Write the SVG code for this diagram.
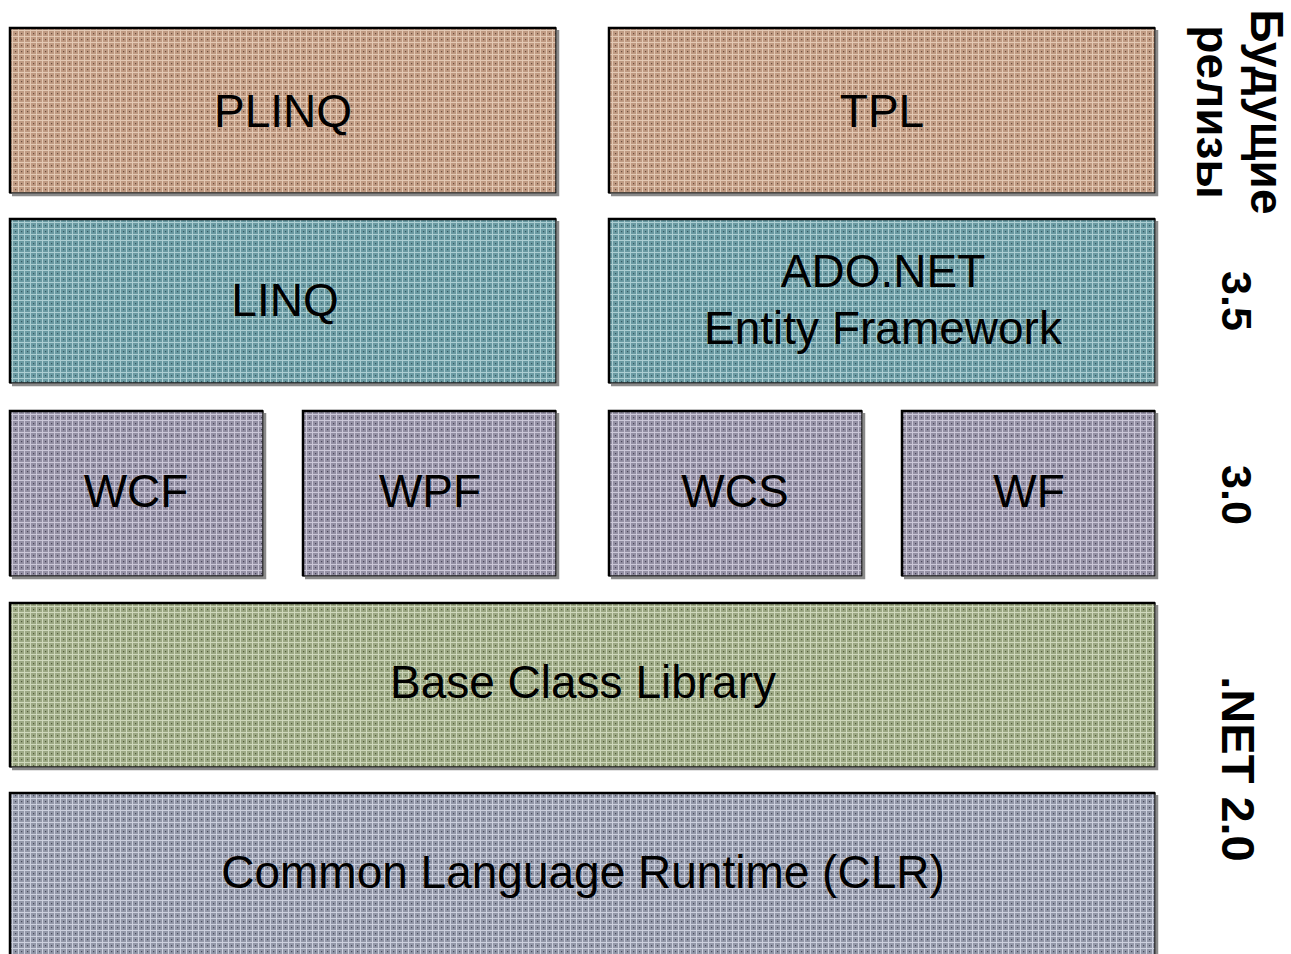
<svg xmlns="http://www.w3.org/2000/svg" width="1291" height="954" viewBox="0 0 1291 954">
<style>
.box{stroke:#1a1a1a;stroke-width:1.5}
.edge{fill:none;stroke:#000;stroke-width:2.5}
.shadow{fill:none;stroke:#8a8a8a;stroke-width:2.5}
.lbl{font-family:"Liberation Sans",Arial,sans-serif;font-size:46px;fill:#000;text-anchor:middle}
.ver{font-family:"Liberation Sans",Arial,sans-serif;font-weight:bold;fill:#000;text-anchor:middle}
</style>
<defs>
<pattern id="pPL" width="6" height="6" patternUnits="userSpaceOnUse"><rect width="6" height="6" fill="#bf9a82"/><path d="M0 0.5H6M0.5 0V6" stroke="#e3c9b4" stroke-width="1"/><rect x="3" y="3" width="1.2" height="1.2" fill="#6a4c3c"/></pattern>
<pattern id="pLI" width="6" height="6" patternUnits="userSpaceOnUse"><rect width="6" height="6" fill="#6a9aa2"/><path d="M0 0.5H6M0.5 0V6" stroke="#acced2" stroke-width="1"/><rect x="3" y="3" width="1.2" height="1.2" fill="#365a62"/></pattern>
<pattern id="pW" width="6" height="6" patternUnits="userSpaceOnUse"><rect width="6" height="6" fill="#9490a4"/><path d="M0 0.5H6M0.5 0V6" stroke="#cbc7d8" stroke-width="1"/><rect x="3" y="3" width="1.2" height="1.2" fill="#4a465a"/></pattern>
<pattern id="pB" width="6" height="6" patternUnits="userSpaceOnUse"><rect width="6" height="6" fill="#9ca884"/><path d="M0 0.5H6M0.5 0V6" stroke="#cfd8bc" stroke-width="1"/><rect x="3" y="3" width="1.2" height="1.2" fill="#525c3a"/></pattern>
<pattern id="pC" width="6" height="6" patternUnits="userSpaceOnUse"><rect width="6" height="6" fill="#9398a9"/><path d="M0 0.5H6M0.5 0V6" stroke="#ccd0de" stroke-width="1"/><rect x="3" y="3" width="1.2" height="1.2" fill="#464a5a"/></pattern>
</defs>

<g id="plinq">
<rect class="box" x="10" y="28" width="546" height="165" fill="url(#pPL)"/>
<path class="shadow" d="M558 30V195H12"/>
<path class="edge" d="M10 193V28H556"/>
<text class="lbl" x="283" y="127">PLINQ</text>
</g>
<g id="tpl">
<rect class="box" x="609" y="28" width="546" height="165" fill="url(#pPL)"/>
<path class="shadow" d="M1157 30V195H611"/>
<path class="edge" d="M609 193V28H1155"/>
<text class="lbl" x="882" y="127">TPL</text>
</g>

<g id="linq">
<rect class="box" x="10" y="219" width="546" height="164" fill="url(#pLI)"/>
<path class="shadow" d="M558 221V385H12"/>
<path class="edge" d="M10 383V219H556"/>
<text class="lbl" x="285" y="316">LINQ</text>
</g>
<g id="adonet">
<rect class="box" x="609" y="219" width="546" height="164" fill="url(#pLI)"/>
<path class="shadow" d="M1157 221V385H611"/>
<path class="edge" d="M609 383V219H1155"/>
<text class="lbl" x="883" y="287">ADO.NET</text>
<text class="lbl" x="883" y="344">Entity Framework</text>
</g>

<g id="wcf">
<rect class="box" x="10" y="411" width="253" height="165" fill="url(#pW)"/>
<path class="shadow" d="M265 413V578H12"/>
<path class="edge" d="M10 576V411H263"/>
<text class="lbl" x="136" y="507">WCF</text>
</g>
<g id="wpf">
<rect class="box" x="303" y="411" width="253" height="165" fill="url(#pW)"/>
<path class="shadow" d="M558 413V578H305"/>
<path class="edge" d="M303 576V411H556"/>
<text class="lbl" x="430" y="507">WPF</text>
</g>
<g id="wcs">
<rect class="box" x="609" y="411" width="253" height="165" fill="url(#pW)"/>
<path class="shadow" d="M864 413V578H611"/>
<path class="edge" d="M609 576V411H862"/>
<text class="lbl" x="735" y="507">WCS</text>
</g>
<g id="wf">
<rect class="box" x="902" y="411" width="253" height="165" fill="url(#pW)"/>
<path class="shadow" d="M1157 413V578H904"/>
<path class="edge" d="M902 576V411H1155"/>
<text class="lbl" x="1029" y="507">WF</text>
</g>

<g id="bcl">
<rect class="box" x="10" y="603" width="1145" height="164" fill="url(#pB)"/>
<path class="shadow" d="M1157 605V769H12"/>
<path class="edge" d="M10 767V603H1155"/>
<text class="lbl" x="583" y="698">Base Class Library</text>
</g>
<g id="clr">
<rect class="box" x="10" y="793" width="1145" height="175" fill="url(#pC)"/>
<path class="shadow" d="M1157 795V960"/>
<path class="edge" d="M10 960V793H1155"/>
<text class="lbl" x="583" y="888">Common Language Runtime (CLR)</text>
</g>

<g id="versions">
<text class="ver" font-size="46" transform="translate(1251,112) rotate(90)">Будущие</text>
<text class="ver" font-size="46" transform="translate(1197,112) rotate(90)">релизы</text>
<text class="ver" font-size="43" transform="translate(1222,301) rotate(90)">3.5</text>
<text class="ver" font-size="43" transform="translate(1222,495) rotate(90)">3.0</text>
<text class="ver" font-size="47" transform="translate(1222,769) rotate(90)">.NET 2.0</text>
</g>
<g id="connectors"/>
</svg>
